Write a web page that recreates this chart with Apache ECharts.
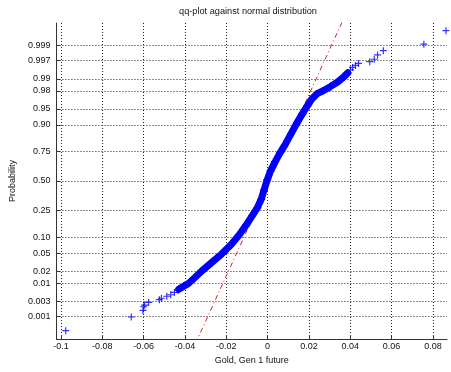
<!DOCTYPE html>
<html>
<head>
<meta charset="utf-8">
<script src="https://cdn.jsdelivr.net/npm/echarts@6/dist/echarts.min.js"></script>
<style>html,body{margin:0;padding:0;background:#fff;}#chart{width:451px;height:372px;}</style>
</head>
<body>
<div id="chart"></div>
<script>
// ---- data (x: sample value, q: theoretical normal quantile) ----
const titleText = 'qq-plot against normal distribution';
const xName = 'Gold, Gen 1 future';
const yName = 'Probability';

const xTickValues = [-0.1, -0.08, -0.06, -0.04, -0.02, 0, 0.02, 0.04, 0.06, 0.08];
const xTickLabels = ['-0.1', '-0.08', '-0.06', '-0.04', '-0.02', '0', '0.02', '0.04', '0.06', '0.08'];
const probTicks = [0.001, 0.003, 0.01, 0.02, 0.05, 0.10, 0.25, 0.50, 0.75, 0.90, 0.95, 0.98, 0.99, 0.997, 0.999];
const probLabels = ['0.001', '0.003', '0.01', '0.02', '0.05', '0.10', '0.25', '0.50', '0.75', '0.90', '0.95', '0.98', '0.99', '0.997', '0.999'];

const lowerTailX = [-0.0977, -0.0660, -0.0603, -0.0600, -0.0595, -0.0576, -0.0524, -0.0514, -0.0488, -0.0469, -0.0451, -0.0435, -0.0418];
const lowerTailQ = [-3.411, -3.099, -2.949, -2.865, -2.826, -2.767, -2.705, -2.671, -2.626, -2.592, -2.539, -2.489, -2.432];

const bodyX = [-0.0430, -0.0406, -0.0382, -0.0353, -0.0320, -0.0272, -0.0224, -0.0175, -0.0137, -0.0103,
               -0.0075, -0.0050, -0.0031, -0.0017, -0.0002, 0.0014, 0.0036, 0.0060, 0.0084, 0.0113,
               0.0142, 0.0168, 0.0192, 0.0214, 0.0238, 0.0267, 0.0305, 0.0339, 0.0368, 0.0387];
const bodyQ = [-2.466, -2.398, -2.330, -2.205, -2.057, -1.863, -1.670, -1.442, -1.226, -0.998,
               -0.793, -0.611, -0.418, -0.201, 0.026, 0.231, 0.436, 0.641, 0.823, 1.073,
               1.324, 1.529, 1.711, 1.870, 1.984, 2.052, 2.155, 2.257, 2.371, 2.462];

const upperTailX = [0.0401, 0.0411, 0.0425, 0.0440, 0.0494, 0.0516, 0.0532, 0.0560, 0.0756, 0.0863];
const upperTailQ = [2.530, 2.587, 2.633, 2.678, 2.719, 2.774, 2.872, 2.970, 3.117, 3.425];

const refLineX = [-0.0349, 0.0368];
const refLineQ = [-3.7, 3.7];

// ---- probability scale helper (inverse normal CDF, Acklam) ----
function norminv(p) {
  const a = [-3.969683028665376e+01, 2.209460984245205e+02, -2.759285104469687e+02, 1.383577518672690e+02, -3.066479806614716e+01, 2.506628277459239e+00];
  const b = [-5.447609879822406e+01, 1.615858368580409e+02, -1.556989798598866e+02, 6.680131188771972e+01, -1.328068155288572e+01];
  const c = [-7.784894002430293e-03, -3.223964580411365e-01, -2.400758277161838e+00, -2.549732539343734e+00, 4.374664141464968e+00, 2.938163982698783e+00];
  const d = [7.784695709041462e-03, 3.224671290700398e-01, 2.445134137142996e+00, 3.754408661907416e+00];
  const pl = 0.02425;
  let q, r;
  if (p < pl) {
    q = Math.sqrt(-2 * Math.log(p));
    return (((((c[0]*q+c[1])*q+c[2])*q+c[3])*q+c[4])*q+c[5]) / ((((d[0]*q+d[1])*q+d[2])*q+d[3])*q+1);
  } else if (p <= 1 - pl) {
    q = p - 0.5; r = q * q;
    return (((((a[0]*r+a[1])*r+a[2])*r+a[3])*r+a[4])*r+a[5])*q / (((((b[0]*r+b[1])*r+b[2])*r+b[3])*r+b[4])*r+1);
  } else {
    q = Math.sqrt(-2 * Math.log(1 - p));
    return -(((((c[0]*q+c[1])*q+c[2])*q+c[3])*q+c[4])*q+c[5]) / ((((d[0]*q+d[1])*q+d[2])*q+d[3])*q+1);
  }
}
const yTickValues = probTicks.map(norminv);

const zip = (xs, ys) => xs.map((v, i) => [v, ys[i]]);
const plusSymbol = 'path://M0,5L10,5M5,0L5,10';
const FONT = 'Liberation Sans, Arial, sans-serif';
const BLUE = '#0000ff';

const chart = echarts.init(document.getElementById('chart'), null, { renderer: 'canvas' });
chart.setOption({
  animation: false,
  backgroundColor: '#ffffff',
  title: {
    text: titleText,
    left: 248, top: 7, padding: 0,
    textAlign: 'center',
    textStyle: { fontFamily: FONT, fontSize: 9.2, fontWeight: 'normal', color: '#111' }
  },
  grid: { left: 54, top: 23, width: 393, height: 316, containLabel: false },
  xAxis: {
    type: 'value',
    min: -0.1022, max: 0.0868,
    name: xName, nameLocation: 'middle', nameGap: 17,
    nameTextStyle: { fontFamily: FONT, fontSize: 9, color: '#111' },
    axisLine: { show: true, onZero: false, lineStyle: { color: '#333', width: 1 } },
    axisTick: { show: true, inside: true, length: 4, customValues: xTickValues, lineStyle: { color: '#333' } },
    axisLabel: {
      customValues: xTickValues, margin: 3,
      fontFamily: FONT, fontSize: 9, color: '#111',
      formatter: (v) => {
        let best = 0;
        xTickValues.forEach((t, i) => { if (Math.abs(t - v) < Math.abs(xTickValues[best] - v)) best = i; });
        return xTickLabels[best];
      }
    },
    splitLine: { show: true, lineStyle: { color: '#222', width: 1, type: [1, 2] } }
  },
  yAxis: {
    type: 'value',
    min: -3.6, max: 3.6,
    name: yName, nameLocation: 'middle', nameGap: 35,
    nameTextStyle: { fontFamily: FONT, fontSize: 9, color: '#111' },
    axisLine: { show: true, onZero: false, lineStyle: { color: '#333', width: 1 } },
    axisTick: { show: true, inside: true, length: 4, customValues: yTickValues, lineStyle: { color: '#333' } },
    axisLabel: {
      customValues: yTickValues, margin: 6,
      fontFamily: FONT, fontSize: 9, color: '#111',
      formatter: (v) => {
        let best = 0;
        yTickValues.forEach((t, i) => { if (Math.abs(t - v) < Math.abs(yTickValues[best] - v)) best = i; });
        return probLabels[best];
      }
    },
    splitLine: { show: true, lineStyle: { color: '#222', width: 1, type: [1, 2] } }
  },
  series: [
    {
      name: 'reference', type: 'line', data: zip(refLineX, refLineQ),
      symbol: 'none', clip: true, z: 1,
      lineStyle: { color: '#dd2020', width: 1, type: [5, 3, 1, 3] }
    },
    {
      name: 'body', type: 'line', data: zip(bodyX, bodyQ),
      symbol: plusSymbol, symbolSize: 8, showSymbol: true, clip: false, z: 3,
      lineStyle: { color: BLUE, width: 7, cap: 'round', join: 'round' },
      itemStyle: { color: 'rgba(0,0,0,0)', borderColor: BLUE, borderWidth: 1.2 }
    },
    {
      name: 'tails', type: 'scatter', data: zip(lowerTailX, lowerTailQ).concat(zip(upperTailX, upperTailQ)),
      symbol: plusSymbol, symbolSize: 7, clip: false, z: 3,
      itemStyle: { color: 'rgba(0,0,0,0)', borderColor: BLUE, borderWidth: 1.2 }
    }
  ]
});
</script>
</body>
</html>
